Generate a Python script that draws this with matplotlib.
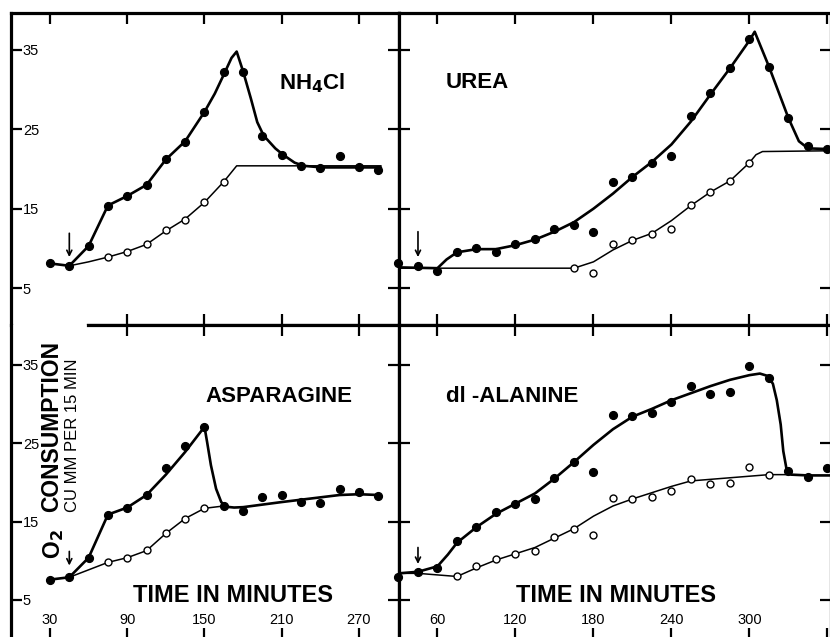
import matplotlib
matplotlib.use("Agg")
import matplotlib.pyplot as plt

# ---------------- data ----------------
# NH4Cl panel
nh4_f_t = [30, 45, 60, 75, 90, 105, 120, 135, 150, 165, 180, 195, 210, 225, 240, 255, 270, 285]
nh4_f_v = [8.1, 7.8, 10.3, 15.4, 16.6, 18.0, 21.3, 23.4, 27.2, 32.2, 32.2, 24.1, 21.8, 20.4, 20.1, 21.7, 20.2, 19.9]
nh4_o_t = [75, 90, 105, 120, 135, 150, 165]
nh4_o_v = [8.9, 9.6, 10.5, 12.3, 13.6, 15.8, 18.4]
nh4_fc_t = [30, 45, 60, 75, 90, 105, 120, 135, 150, 158, 165, 171, 175, 180, 186, 191, 196, 205, 211, 220, 227, 241, 287]
nh4_fc_v = [8.1, 7.8, 10.3, 15.4, 16.6, 18.0, 21.2, 23.5, 27.2, 29.5, 31.9, 34.0, 34.8, 32.3, 28.9, 25.9, 24.2, 22.6, 21.8, 20.8, 20.4, 20.2, 20.2]
nh4_oc_t = [45, 60, 75, 90, 105, 120, 135, 150, 165, 175, 287]
nh4_oc_v = [7.8, 8.3, 8.9, 9.6, 10.5, 12.2, 13.7, 15.8, 18.4, 20.4, 20.4]

# UREA panel
urea_f_t = [30, 45, 60, 75, 90, 105, 120, 135, 150, 165, 180, 195, 210, 225, 240, 255, 270, 285, 300, 315, 330, 345, 360]
urea_f_v = [8.2, 7.8, 7.1, 9.5, 10.1, 9.5, 10.5, 11.2, 12.4, 13.0, 12.1, 18.3, 19.0, 20.7, 21.6, 26.7, 29.6, 32.7, 36.4, 32.9, 26.4, 22.9, 22.5]
urea_o_t = [165, 180, 195, 210, 225, 240, 255, 270, 285, 300]
urea_o_v = [7.5, 6.9, 10.6, 11.0, 11.8, 12.5, 15.5, 17.1, 18.5, 20.8]
urea_fc_t = [30, 60, 67, 75, 90, 105, 120, 135, 150, 165, 180, 195, 210, 225, 240, 255, 270, 285, 300, 304, 315, 330, 338, 345, 363]
urea_fc_v = [7.6, 7.5, 8.6, 9.5, 9.9, 9.9, 10.4, 11.1, 12.1, 13.3, 15.0, 16.9, 19.0, 20.9, 23.1, 26.0, 29.4, 32.7, 36.2, 37.3, 32.9, 26.4, 23.5, 22.6, 22.5]
urea_oc_t = [30, 165, 180, 195, 210, 225, 240, 255, 270, 285, 300, 305, 310, 363]
urea_oc_v = [7.5, 7.5, 8.3, 9.8, 11.0, 11.9, 13.5, 15.4, 17.1, 18.5, 20.8, 21.8, 22.2, 22.3]

# ASPARAGINE panel
asp_f_t = [30, 45, 60, 75, 90, 105, 120, 135, 150, 165, 180, 195, 210, 225, 240, 255, 270, 285]
asp_f_v = [7.6, 7.9, 10.4, 15.9, 16.8, 18.4, 21.9, 24.6, 27.1, 17.0, 16.3, 18.1, 18.4, 17.5, 17.4, 19.2, 18.8, 18.3]
asp_o_t = [75, 90, 105, 120, 135, 150]
asp_o_v = [9.8, 10.4, 11.4, 13.6, 15.4, 16.8]
asp_fc_t = [30, 45, 60, 75, 90, 105, 120, 135, 150, 152, 155, 159, 163, 167, 173, 180, 210, 240, 255, 270, 285]
asp_fc_v = [7.6, 7.9, 10.4, 15.9, 16.8, 18.4, 21.0, 23.9, 27.1, 25.2, 22.2, 19.2, 17.5, 16.9, 16.8, 16.85, 17.5, 18.1, 18.4, 18.5, 18.4]
asp_oc_t = [45, 75, 90, 105, 120, 135, 150, 165]
asp_oc_v = [7.9, 9.8, 10.4, 11.3, 13.5, 15.4, 16.7, 17.0]

# dl-ALANINE panel
ala_f_t = [30, 45, 60, 75, 90, 105, 120, 135, 150, 165, 180, 195, 210, 225, 240, 255, 270, 285, 300, 315, 330, 345, 360]
ala_f_v = [7.9, 8.6, 9.1, 12.5, 14.3, 16.2, 17.2, 17.9, 20.6, 22.6, 21.3, 28.6, 28.5, 28.9, 30.3, 32.3, 31.3, 31.6, 34.9, 33.3, 21.5, 20.7, 21.8]
ala_o_t = [75, 90, 105, 120, 135, 150, 165, 180, 195, 210, 225, 240, 255, 270, 285, 300, 315]
ala_o_v = [8.0, 9.3, 10.2, 10.9, 11.3, 13.0, 14.1, 13.3, 18.0, 17.9, 18.1, 18.9, 20.4, 19.8, 19.9, 22.0, 20.9]
ala_fc_t = [30, 45, 60, 68, 75, 90, 105, 120, 135, 150, 165, 180, 195, 210, 225, 240, 255, 270, 285, 300, 308, 314, 318, 321, 324, 326, 328.5, 332, 345, 363]
ala_fc_v = [8.4, 8.6, 9.3, 10.8, 12.3, 14.3, 16.0, 17.3, 18.6, 20.5, 22.6, 24.8, 26.8, 28.4, 29.4, 30.5, 31.4, 32.3, 33.1, 33.7, 33.9, 33.6, 32.6, 30.5, 27.4, 24.0, 21.7, 21.0, 20.9, 20.9]
ala_oc_t = [30, 45, 60, 75, 90, 105, 120, 135, 150, 165, 180, 195, 210, 225, 240, 255, 270, 285, 300, 315, 330]
ala_oc_v = [8.4, 8.4, 8.2, 8.0, 9.1, 10.1, 10.9, 11.7, 12.9, 14.1, 15.7, 17.0, 17.9, 18.7, 19.5, 20.2, 20.4, 20.6, 20.8, 21.0, 21.0]

x_ticks_left = [30, 90, 150, 210, 270]
x_ticks_right = [60, 120, 180, 240, 300, 360]
x_labels_right = ["60", "120", "180", "240", "300", ""]
y_ticks = [5, 15, 25, 35]
add_time = 45  # substrate added (arrow)

# ---------------- figure ----------------
W, H = 830, 637
fig = plt.figure(figsize=(W / 100, H / 100), dpi=100)
fig.patch.set_facecolor("white")


def px_rect(x0, y0, x1, y1):
    return [x0 / W, 1 - y1 / H, (x1 - x0) / W, (y1 - y0) / H]


ax_tl = fig.add_axes(px_rect(11, 13, 399, 325))
ax_tr = fig.add_axes(px_rect(399, 13, 831, 325))
ax_bl = fig.add_axes(px_rect(11, 325, 399, 639))
ax_br = fig.add_axes(px_rect(399, 325, 831, 639))

TITLE_FONT = dict(family="Liberation Sans", weight="bold", size=16)
TICK_FONT = "Liberation Sans"


def draw_panel(ax, ft, fv, ot, ov, fct, fcv, oct_, ocv):
    ax.plot(fct, fcv, "-", color="black", lw=1.9, solid_joinstyle="round",
            solid_capstyle="round", zorder=2)
    ax.plot(oct_, ocv, "-", color="black", lw=1.1, solid_joinstyle="round", zorder=2)
    ax.plot(ft, fv, "o", ms=5.6, color="black", mec="black", clip_on=False, zorder=4)
    ax.plot(ot, ov, "o", ms=5.0, mfc="white", mec="black", mew=1.0, clip_on=False, zorder=5)


def style_axes(ax, xticks, xlim, ylim):
    ax.set_xlim(*xlim)
    ax.set_ylim(*ylim)
    ax.set_xticks(xticks)
    ax.set_yticks(y_ticks)
    for sp in ax.spines.values():
        sp.set_linewidth(2.3)
        sp.set_color("black")
    ax.tick_params(axis="both", which="major", direction="in", length=8, width=1.6,
                   top=True, bottom=True, left=True, right=True,
                   labelleft=False, labelbottom=False, labeltop=False, labelright=False,
                   labelsize=10.5, colors="black")
    for lbl in ax.get_xticklabels() + ax.get_yticklabels():
        lbl.set_fontfamily(TICK_FONT)


draw_panel(ax_tl, nh4_f_t, nh4_f_v, nh4_o_t, nh4_o_v, nh4_fc_t, nh4_fc_v, nh4_oc_t, nh4_oc_v)
draw_panel(ax_tr, urea_f_t, urea_f_v, urea_o_t, urea_o_v, urea_fc_t, urea_fc_v, urea_oc_t, urea_oc_v)
draw_panel(ax_bl, asp_f_t, asp_f_v, asp_o_t, asp_o_v, asp_fc_t, asp_fc_v, asp_oc_t, asp_oc_v)
draw_panel(ax_br, ala_f_t, ala_f_v, ala_o_t, ala_o_v, ala_fc_t, ala_fc_v, ala_oc_t, ala_oc_v)

xl_left = (-0.3, 301.1)
xl_right = (30.4, 362.7)
yl_top = (0.34, 39.66)
yl_bot = (0.02, 40.1)
style_axes(ax_tl, x_ticks_left, xl_left, yl_top)
style_axes(ax_tr, x_ticks_right, xl_right, yl_top)
style_axes(ax_bl, x_ticks_left, xl_left, yl_bot)
style_axes(ax_br, x_ticks_right, xl_right, yl_bot)

# y tick labels inside the left panels
for ax in (ax_tl, ax_bl):
    ax.tick_params(axis="y", labelleft=True, pad=-8.5)
    for lbl in ax.get_yticklabels():
        lbl.set_ha("left")
        lbl.set_fontfamily(TICK_FONT)

# x tick labels inside the bottom panels
for ax in (ax_bl, ax_br):
    ax.tick_params(axis="x", labelbottom=True, pad=-18.5)
    for lbl in ax.get_xticklabels():
        lbl.set_fontfamily(TICK_FONT)
ax_br.set_xticklabels(x_labels_right, fontfamily=TICK_FONT)

# middle horizontal rule starts right of the y label
ax_tl.spines["bottom"].set_bounds(59.5, xl_left[1])
ax_bl.spines["top"].set_bounds(59.5, xl_left[1])
ax_tl.xaxis.get_major_ticks()[0].tick1line.set_visible(False)
ax_bl.xaxis.get_major_ticks()[0].tick2line.set_visible(False)

# panel titles
ax_tl.text(0.775, 0.776, r"NH$_\mathbf{4}$Cl", transform=ax_tl.transAxes,
           ha="center", va="center", **TITLE_FONT)
ax_tr.text(0.181, 0.776, "UREA", transform=ax_tr.transAxes,
           ha="center", va="center", **TITLE_FONT)
ax_bl.text(0.691, 0.771, "ASPARAGINE", transform=ax_bl.transAxes,
           ha="center", va="center", **TITLE_FONT)
ax_br.text(0.262, 0.771, "dl -ALANINE", transform=ax_br.transAxes,
           ha="center", va="center", **TITLE_FONT)

# x axis titles
for ax, xf in ((ax_bl, 0.572), (ax_br, 0.502)):
    ax.text(xf, 0.140, "TIME IN MINUTES", transform=ax.transAxes, ha="center",
            va="center", family="Liberation Sans", weight="bold", size=17)

# arrows marking addition
for ax, (tail, tip) in ((ax_tl, (11.9, 8.9)), (ax_tr, (12.1, 8.9)),
                        (ax_bl, (11.2, 9.4)), (ax_br, (11.7, 9.6))):
    ax.annotate("", xy=(add_time, tip), xytext=(add_time, tail),
                arrowprops=dict(arrowstyle="->", lw=1.2, color="black",
                                mutation_scale=9, shrinkA=0, shrinkB=0))

# y axis label
fig.text(52 / W, 1 - 512 / H, "CONSUMPTION", rotation=90, ha="center", va="bottom",
         family="Liberation Sans", weight="bold", size=16.5)
fig.text(54 / W, 1 - 529 / H, r"O$_\mathbf{2}$", rotation=90, ha="center", va="top",
         family="Liberation Sans", weight="bold", size=16.5)
fig.text(72 / W, 1 - 512 / H, "CU MM PER 15 MIN", rotation=90, ha="center", va="bottom",
         family="Liberation Sans", size=12)

fig.savefig("out.png", dpi=100, facecolor="white")
